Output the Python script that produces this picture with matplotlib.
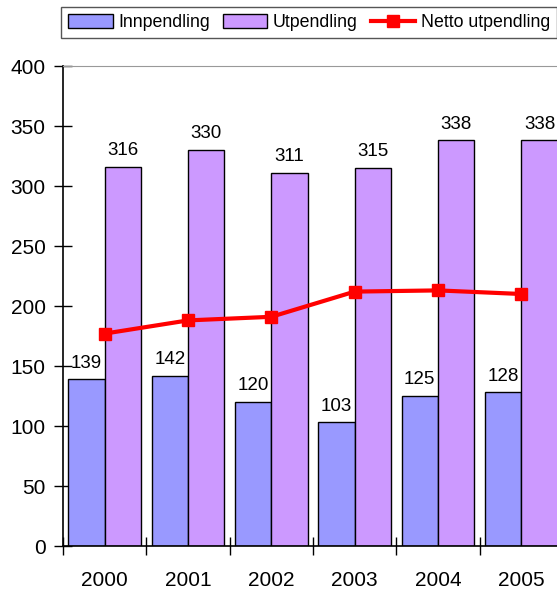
import matplotlib
matplotlib.use("Agg")
import matplotlib.pyplot as plt
import numpy as np
from matplotlib.patches import Patch
from matplotlib.lines import Line2D

plt.rcParams['font.family'] = ['Liberation Sans', 'DejaVu Sans']

years = ["2000", "2001", "2002", "2003", "2004", "2005"]
innpendling = [139, 142, 120, 103, 125, 128]
utpendling = [316, 330, 311, 315, 338, 338]
netto = [177, 188, 191, 212, 213, 210]

c_inn = "#9999FF"
c_ut = "#CC99FF"
c_net = "#FF0000"

W, H = 557, 589
fig = plt.figure(figsize=(W / 100, H / 100), dpi=100)
left, right, top, bottom = 63, 563, 66, 546
ax = fig.add_axes([left / W, 1 - bottom / H, (right - left) / W, (bottom - top) / H])

x = np.arange(len(years))
bw = 0.4375
ax.bar(x - bw / 2, innpendling, bw, color=c_inn, edgecolor="black", linewidth=1.0, zorder=2)
ax.bar(x + bw / 2, utpendling, bw, color=c_ut, edgecolor="black", linewidth=1.0, zorder=2)
ax.plot(x, netto, color=c_net, linewidth=3, marker="s", markersize=8, zorder=3)

for xi, v in zip(x, innpendling):
    ax.annotate(str(v), (xi - bw / 2, v), xytext=(0, 5.5), textcoords="offset points",
                ha="center", va="bottom", fontsize=13.5)
for xi, v in zip(x, utpendling):
    ax.annotate(str(v), (xi + bw / 2, v), xytext=(0, 5.5), textcoords="offset points",
                ha="center", va="bottom", fontsize=13.5)

ax.set_xlim(-0.5, len(years) - 0.5)
ax.set_ylim(0, 400)
ax.set_yticks(np.arange(0, 401, 50))
ax.tick_params(axis="y", direction="inout", length=13, width=1, labelsize=15, pad=6)
ax.set_xticks(x)
ax.set_xticklabels(years)
ax.set_xticks(np.arange(-0.5, len(years), 1), minor=True)
ax.tick_params(axis="x", which="major", length=0, labelsize=15, pad=18)
ax.tick_params(axis="x", which="minor", direction="inout", length=13, width=1)

for s in ["left", "bottom"]:
    ax.spines[s].set_color("black")
    ax.spines[s].set_linewidth(1.2)
ax.spines["top"].set_color("#999999")
ax.spines["right"].set_visible(False)

handles = [
    Patch(facecolor=c_inn, edgecolor="black", linewidth=1.0),
    Patch(facecolor=c_ut, edgecolor="black", linewidth=1.0),
    Line2D([], [], color=c_net, linewidth=3, marker="s", markersize=8),
]
labels = ["Innpendling", "Utpendling", "Netto utpendling"]
leg = fig.legend(handles, labels, loc="upper left", bbox_to_anchor=(61 / W, 1 - 7 / H),
                 ncol=3, fontsize=12.8, frameon=True, fancybox=False, framealpha=1,
                 edgecolor="#555555", handlelength=2.5, handleheight=0.8,
                 columnspacing=0.75, handletextpad=0.3, borderpad=0.4, borderaxespad=0)
leg.get_frame().set_linewidth(1.0)

fig.savefig("out.png", dpi=100)
